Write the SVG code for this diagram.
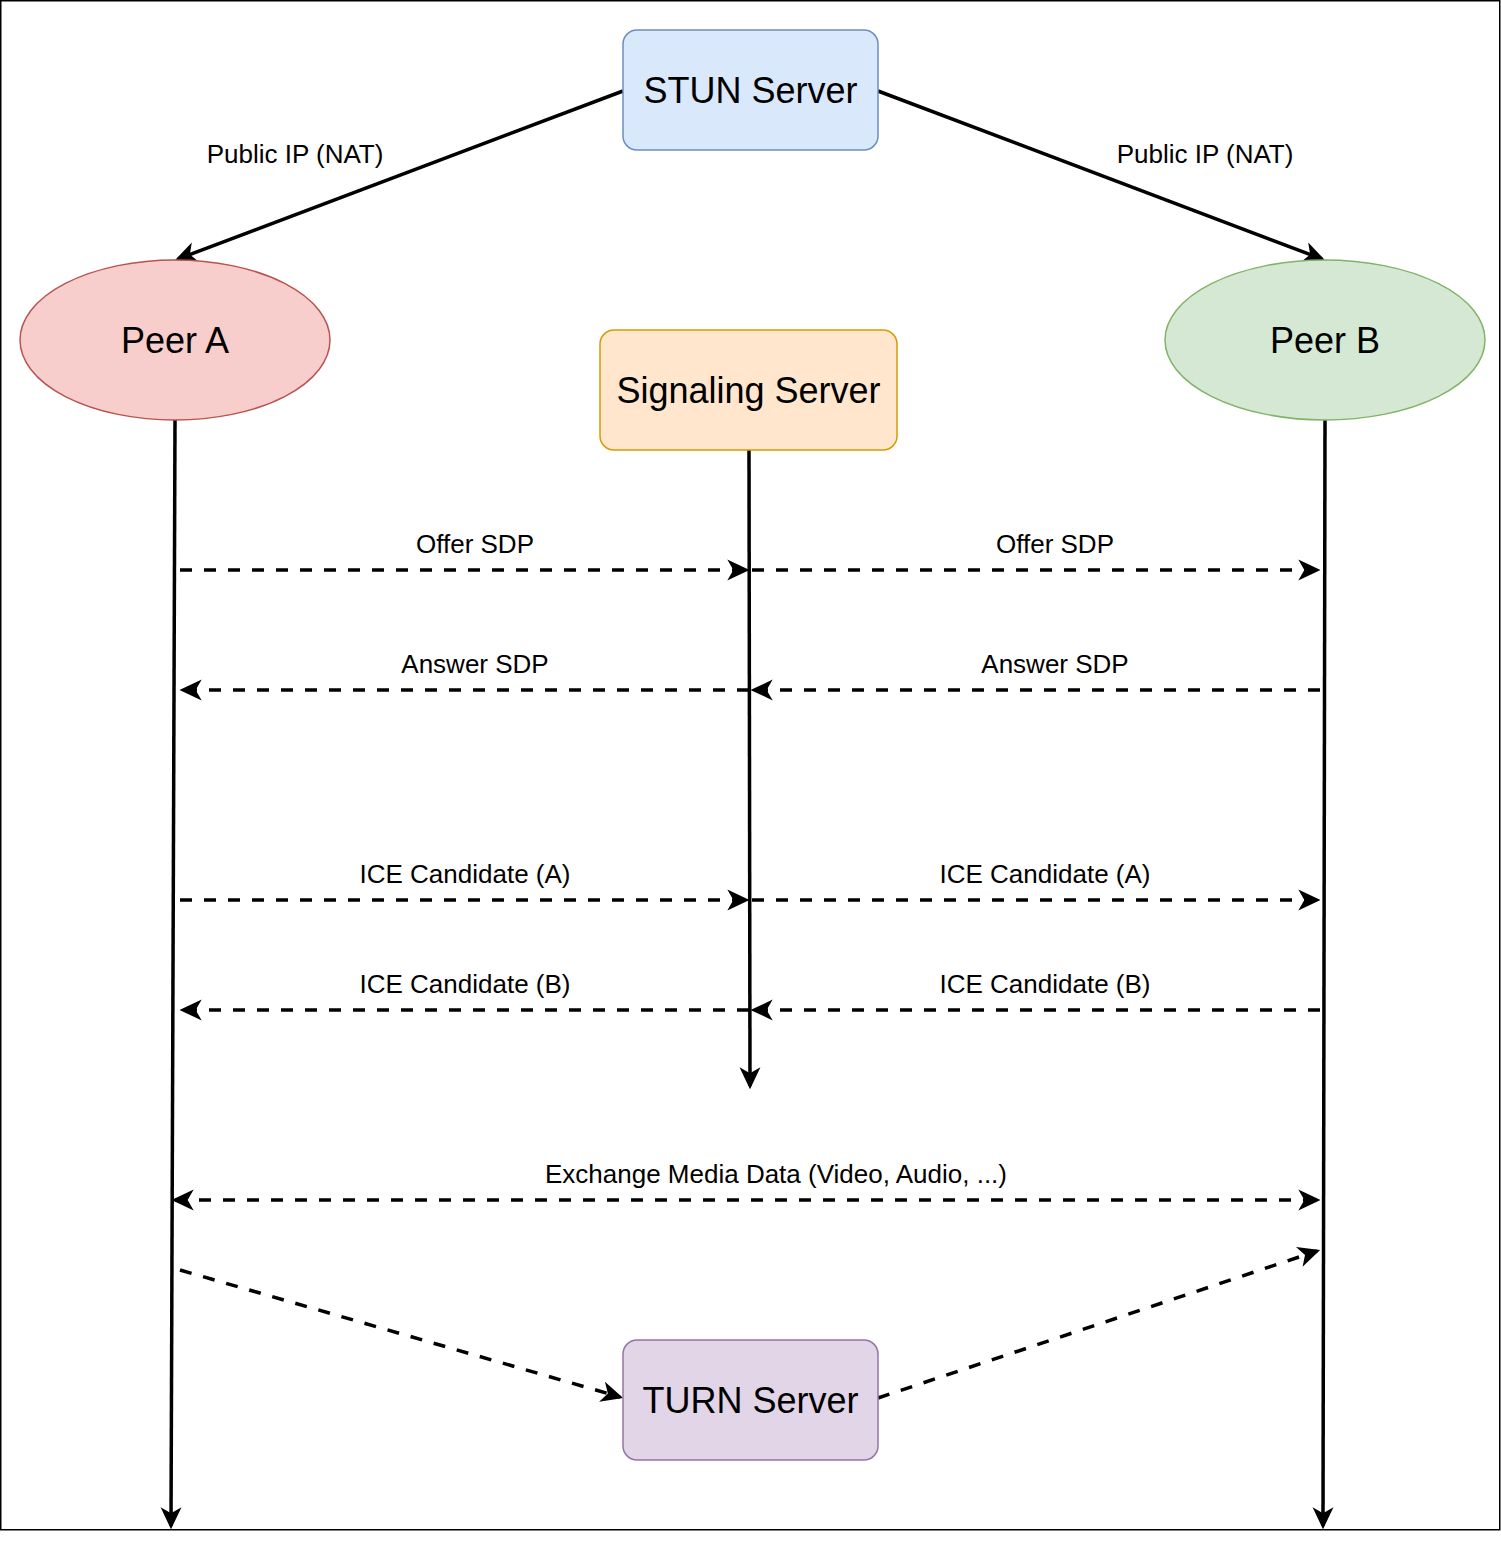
<svg xmlns="http://www.w3.org/2000/svg" width="1501" height="1541" viewBox="0 0 1501 1541">
<defs>
<style>
.lbl{font-family:"Liberation Sans",Arial,sans-serif;font-size:26px;fill:#000;text-anchor:middle}
.big{font-family:"Liberation Sans",Arial,sans-serif;font-size:36px;fill:#000;text-anchor:middle}
.solid{stroke:#000;stroke-width:3.5;fill:none;marker-end:url(#arr)}
.dash{stroke:#000;stroke-width:3.5;fill:none;stroke-dasharray:12 12;marker-end:url(#arr)}
</style>
<marker id="arr" markerUnits="userSpaceOnUse" markerWidth="22" markerHeight="22" refX="17" refY="9.5" orient="auto-start-reverse" viewBox="0 0 20 19">
<path d="M0,0 L20,9.5 L0,19 L5.5,9.5 Z" fill="#000"/>
</marker>
</defs>
<rect x="0.75" y="0.75" width="1499" height="1529" fill="#fff" stroke="#000" stroke-width="1.5"/>
<g id="connectors">
<line class="solid" x1="623" y1="91" x2="178" y2="259"/>
<line class="solid" x1="878" y1="91" x2="1322" y2="259"/>
<line class="solid" x1="175" y1="420" x2="171" y2="1526"/>
<line class="solid" x1="1325" y1="420" x2="1323" y2="1526"/>
<line class="solid" x1="749" y1="450" x2="750" y2="1086"/>
<line class="dash" x1="180" y1="570" x2="746" y2="570"/>
<line class="dash" x1="752" y1="570" x2="1317" y2="570"/>
<line class="dash" x1="1320" y1="690" x2="754" y2="690"/>
<line class="dash" x1="749" y1="690" x2="183" y2="690"/>
<line class="dash" x1="180" y1="900" x2="746" y2="900"/>
<line class="dash" x1="752" y1="900" x2="1317" y2="900"/>
<line class="dash" x1="1320" y1="1010" x2="754" y2="1010"/>
<line class="dash" x1="749" y1="1010" x2="183" y2="1010"/>
<line class="dash" x1="175" y1="1200" x2="1317" y2="1200" style="marker-start:url(#arr)"/>
<line class="dash" x1="180" y1="1270" x2="620" y2="1397"/>
<line class="dash" x1="878" y1="1398" x2="1317" y2="1251"/>
<text class="lbl" x="295" y="163">Public IP (NAT)</text>
<text class="lbl" x="1205" y="163">Public IP (NAT)</text>
<text class="lbl" x="475" y="553">Offer SDP</text>
<text class="lbl" x="1055" y="553">Offer SDP</text>
<text class="lbl" x="475" y="673">Answer SDP</text>
<text class="lbl" x="1055" y="673">Answer SDP</text>
<text class="lbl" x="465" y="883">ICE Candidate (A)</text>
<text class="lbl" x="1045" y="883">ICE Candidate (A)</text>
<text class="lbl" x="465" y="993">ICE Candidate (B)</text>
<text class="lbl" x="1045" y="993">ICE Candidate (B)</text>
<text class="lbl" x="776" y="1183">Exchange Media Data (Video, Audio, ...)</text>
</g>
<g id="stun">
<rect x="623" y="30" width="255" height="120" rx="14" fill="#dae8fc" stroke="#6c8ebf" stroke-width="1.5"/>
<text class="big" x="750.5" y="103">STUN Server</text>
</g>
<g id="peerA">
<ellipse cx="175" cy="340" rx="155" ry="80" fill="#f8cecc" stroke="#b85450" stroke-width="1.5"/>
<text class="big" x="175" y="353">Peer A</text>
</g>
<g id="peerB">
<ellipse cx="1325" cy="340" rx="160" ry="80" fill="#d5e8d4" stroke="#82b366" stroke-width="1.5"/>
<text class="big" x="1325" y="353">Peer B</text>
</g>
<g id="signaling">
<rect x="600" y="330" width="297" height="120" rx="14" fill="#ffe6cc" stroke="#d79b00" stroke-width="1.5"/>
<text class="big" x="748.5" y="403">Signaling Server</text>
</g>
<g id="turn">
<rect x="623" y="1340" width="255" height="120" rx="14" fill="#e1d5e7" stroke="#9673a6" stroke-width="1.5"/>
<text class="big" x="750.5" y="1413">TURN Server</text>
</g>
</svg>
